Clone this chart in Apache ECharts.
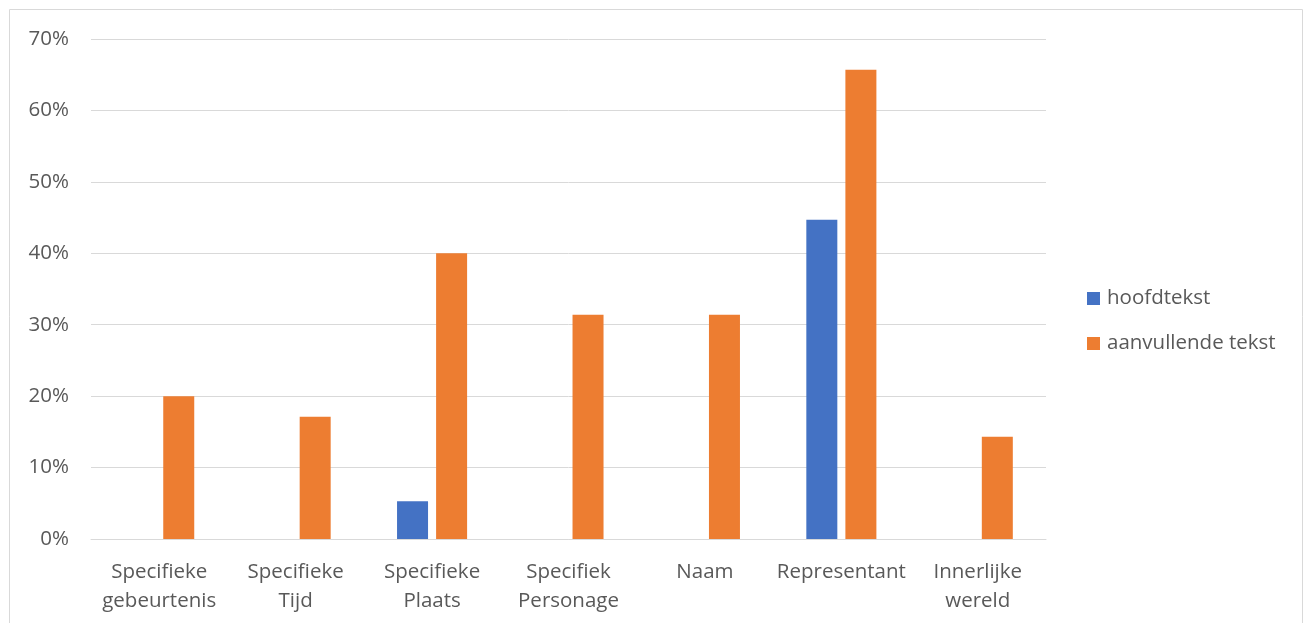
<!DOCTYPE html>
<html>
<head>
<meta charset="utf-8">
<script src="https://cdn.jsdelivr.net/npm/echarts@6/dist/echarts.min.js"></script>
<style>
  html, body { margin: 0; padding: 0; background: #fff; }
  #chart { width: 1309px; height: 623px; }
</style>
</head>
<body>
<div id="chart"></div>
<script>
const categories = ['Specifieke\ngebeurtenis', 'Specifieke\nTijd', 'Specifieke\nPlaats', 'Specifiek\nPersonage', 'Naam', 'Representant', 'Innerlijke\nwereld'];
const hoofdtekst = [0, 0, 5.3, 0, 0, 44.7, 0];
const aanvullend = [20.0, 17.1, 40.0, 31.4, 31.4, 65.7, 14.3];
const colors = ['#4472C4', '#ED7D31'];

const font = 'Open Sans';

function getOption() {
    return {
        animation: false,
        color: colors,
        graphic: [{
            type: 'rect',
            shape: { x: 9.5, y: 9.5, width: 1293, height: 640 },
            style: { fill: 'none', stroke: '#d9d9d9', lineWidth: 1 },
            silent: true
        }],
        grid: { left: 91, right: 263, top: 39, bottom: 84 },
        legend: {
            orient: 'vertical',
            left: 1082,
            top: 283,
            itemWidth: 13,
            itemHeight: 13,
            itemGap: 24,
            icon: 'rect',
            textStyle: { fontFamily: font, fontSize: 20.5, color: '#595959', padding: [0, 0, 0, 2] },
            data: ['hoofdtekst', 'aanvullende tekst']
        },
        xAxis: {
            type: 'category',
            data: categories,
            axisLine: { lineStyle: { color: '#d9d9d9', width: 1 } },
            axisTick: { show: false },
            axisLabel: { fontFamily: font, fontSize: 20.5, color: '#595959', lineHeight: 29, margin: 19, interval: 0 }
        },
        yAxis: {
            type: 'value',
            min: 0,
            max: 70,
            interval: 10,
            axisLine: { show: false },
            axisTick: { show: false },
            splitLine: { lineStyle: { color: '#d9d9d9', width: 1 } },
            axisLabel: { fontFamily: font, fontSize: 20.5, color: '#595959', margin: 22, formatter: '{value}%' }
        },
        series: [
            { name: 'hoofdtekst', type: 'bar', data: hoofdtekst, barWidth: 31, barGap: '26%' },
            { name: 'aanvullende tekst', type: 'bar', data: aanvullend, barWidth: 31, barGap: '26%' }
        ]
    };
}

const myChart = echarts.init(document.getElementById('chart'));
myChart.setOption(getOption());
</script>
</body>
</html>
